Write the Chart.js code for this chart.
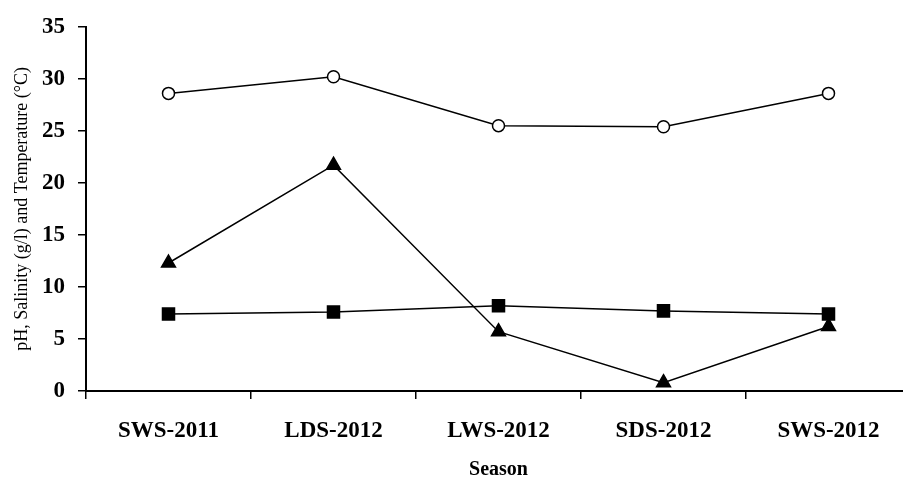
<!DOCTYPE html>
<html>
<head>
<meta charset="utf-8">
<script src="https://cdn.jsdelivr.net/npm/chart.js@4/dist/chart.umd.min.js"></script>
<style>
  html, body { margin: 0; padding: 0; background: #fff; overflow: hidden; }
  #chart { display: block; }
</style>
</head>
<body>
<!-- wider than the window: the last category runs past the right edge, as in the figure -->
<canvas id="chart" width="921" height="482"></canvas>
<script>
// ===== Data =====
const seasons = ["SWS-2011", "LDS-2012", "LWS-2012", "SDS-2012", "SWS-2012"];
const temperature = [28.6, 30.2, 25.5, 25.4, 28.6];
const salinity = [12.3, 21.7, 5.7, 0.8, 6.2];
const ph = [7.4, 7.6, 8.2, 7.7, 7.4];
const yTicks = [0, 5, 10, 15, 20, 25, 30, 35];

const SERIF = "'Liberation Serif', 'Times New Roman', serif";

function series(label, data, style, radius, fill) {
  return {
    label,
    data,
    borderColor: "#000",
    borderWidth: 1.5,
    pointStyle: style,
    pointRadius: radius,
    pointHoverRadius: radius,
    pointBackgroundColor: fill,
    pointBorderColor: "#000",
    pointBorderWidth: 1.5,
    tension: 0,
    fill: false
  };
}

new Chart(document.getElementById("chart"), {
  type: "line",
  data: {
    labels: seasons,
    datasets: [
      series("Temperature", temperature, "circle", 6, "#fff"),
      series("Salinity", salinity, "triangle", 8, "#000"),
      series("pH", ph, "rect", 8.5, "#000")
    ]
  },
  options: {
    responsive: false,
    animation: false,
    layout: { padding: { top: 25, right: 0, bottom: 0, left: 0 } },
    plugins: { legend: { display: false }, tooltip: { enabled: false } },
    scales: {
      x: {
        offset: true,
        afterFit: (scale) => { scale.height = 91; },
        grid: { offset: true, drawOnChartArea: false, color: "#000", lineWidth: 1.5, tickLength: 8 },
        border: { color: "#000", width: 2 },
        ticks: { color: "#000", padding: 18, maxRotation: 0, font: { family: SERIF, size: 23, weight: "bold" } },
        title: { display: true, text: "Season", color: "#000", padding: { top: 0, bottom: 0 },
                 font: { family: SERIF, size: 20, weight: "bold" } }
      },
      y: {
        min: 0,
        max: 35,
        afterBuildTicks: (scale) => { scale.ticks = yTicks.map(v => ({ value: v })); },
        afterFit: (scale) => { scale.width = 86; },
        grid: { drawOnChartArea: false, color: "#000", lineWidth: 1.5, tickLength: 8 },
        border: { color: "#000", width: 2 },
        ticks: { color: "#000", padding: 13, font: { family: SERIF, size: 23, weight: "bold" } },
        title: { display: true, text: "pH, Salinity (g/l) and Temperature (°C)", color: "#000",
                 padding: { top: 11, bottom: 0 }, font: { family: SERIF, size: 18 } }
      }
    }
  }
});
</script>
</body>
</html>
